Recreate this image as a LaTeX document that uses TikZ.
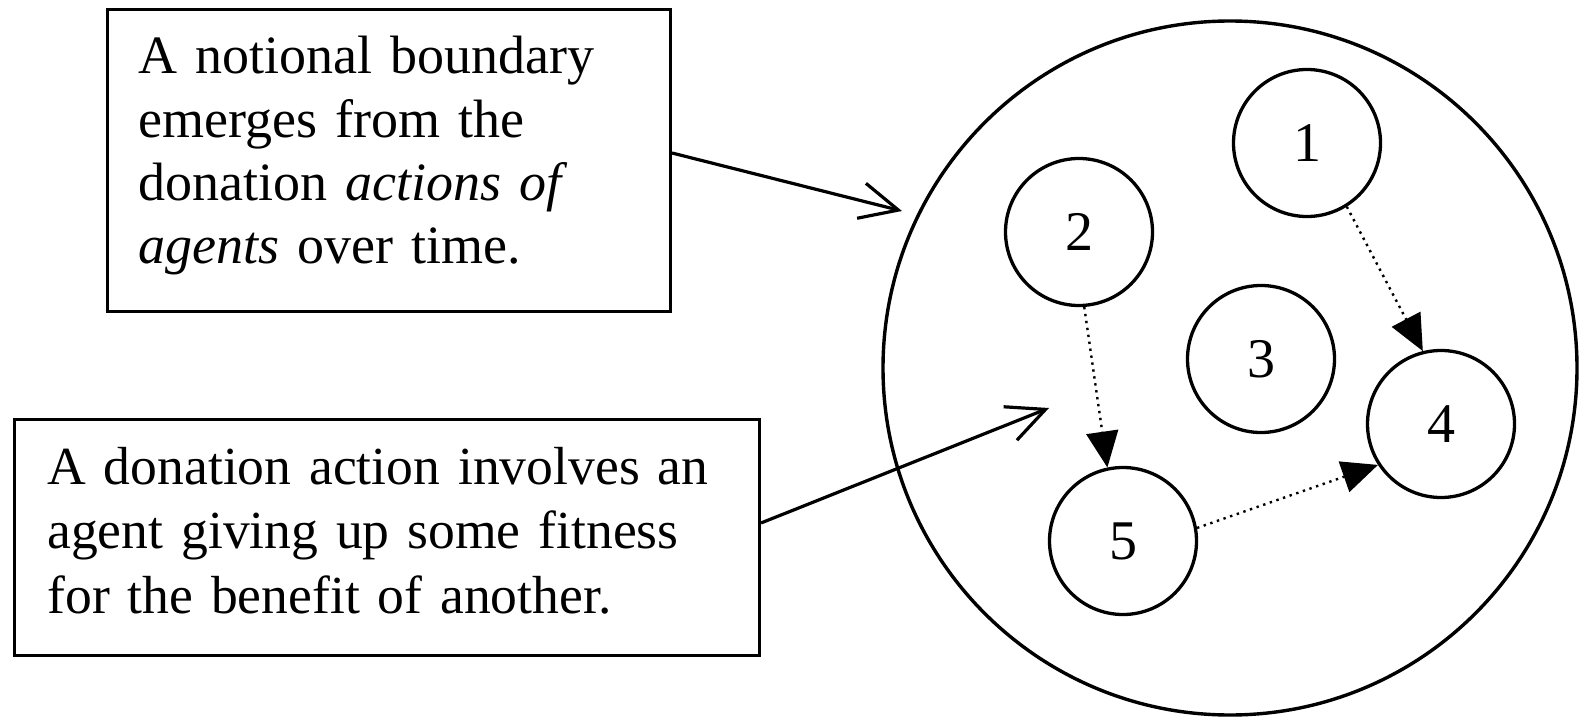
\documentclass[tikz,border=0pt]{standalone}
\usepackage{fontspec}
\setmainfont{Liberation Serif}
\usetikzlibrary{arrows.meta}

\begin{document}
\begin{tikzpicture}[x=0.5pt, y=-0.5pt,
    agent/.style={draw, circle, line width=1.65pt, minimum size=73.5pt, inner sep=0pt, font=\fontsize{28}{32}\selectfont},
    notebox/.style={draw, rectangle, line width=1.5pt, inner sep=0pt},
    notetext/.style={anchor=base west, inner sep=0pt, align=left},
    pointer/.style={line width=1.6pt, -{Straight Barb[length=19pt, width=18pt]}},
    donate/.style={line width=1.2pt, dash pattern=on 1.2pt off 2.3pt, -{Triangle[length=18pt, width=16pt]}}]
          \useasboundingbox (0,0) rectangle (1579,717);
          \node[draw, circle, line width=1.7pt, minimum size=347pt, inner sep=0pt] (boundary) at (1230,368) {};
          \node[agent] (a1) at (1307,143) {1};
          \node[agent] (a2) at (1079,232) {2};
          \node[agent] (a3) at (1261,359) {3};
          \node[agent] (a4) at (1441,424) {4};
          \node[agent] (a5) at (1123,541) {5};

          \node[notebox, minimum width=281.5pt, minimum height=151pt] (box1) at (389,160.5) {};
          \node[notetext, text width=300pt, font=\fontsize{27}{31.6}\selectfont] (txt1) at (138,74)
            {A notional boundary\\ emerges from the\\ donation \textit{actions of}\\ \textit{agents} over time.};
          \node[notebox, minimum width=372.5pt, minimum height=118pt] (box2) at (387,537.5) {};
          \node[notetext, text width=380pt, font=\fontsize{26.8}{32.4}\selectfont] (txt2) at (47,484)
            {A donation action involves an\\ agent giving up some fitness\\ for the benefit of another.};
          \coordinate (tip1) at (902,211);
          \coordinate (tip2) at (1049,408);

          \draw[pointer] ([yshift=3.75pt]box1.east) -- (tip1);
          \draw[pointer] ([yshift=7.25pt]box2.east) -- (tip2);
          \draw[donate] (a2.274) -- (a5.102);
          \draw[donate] (a1.302) -- (a4.104);
          \draw[donate] (a5.10) -- (a4.213);
        \end{tikzpicture}
\end{document}
